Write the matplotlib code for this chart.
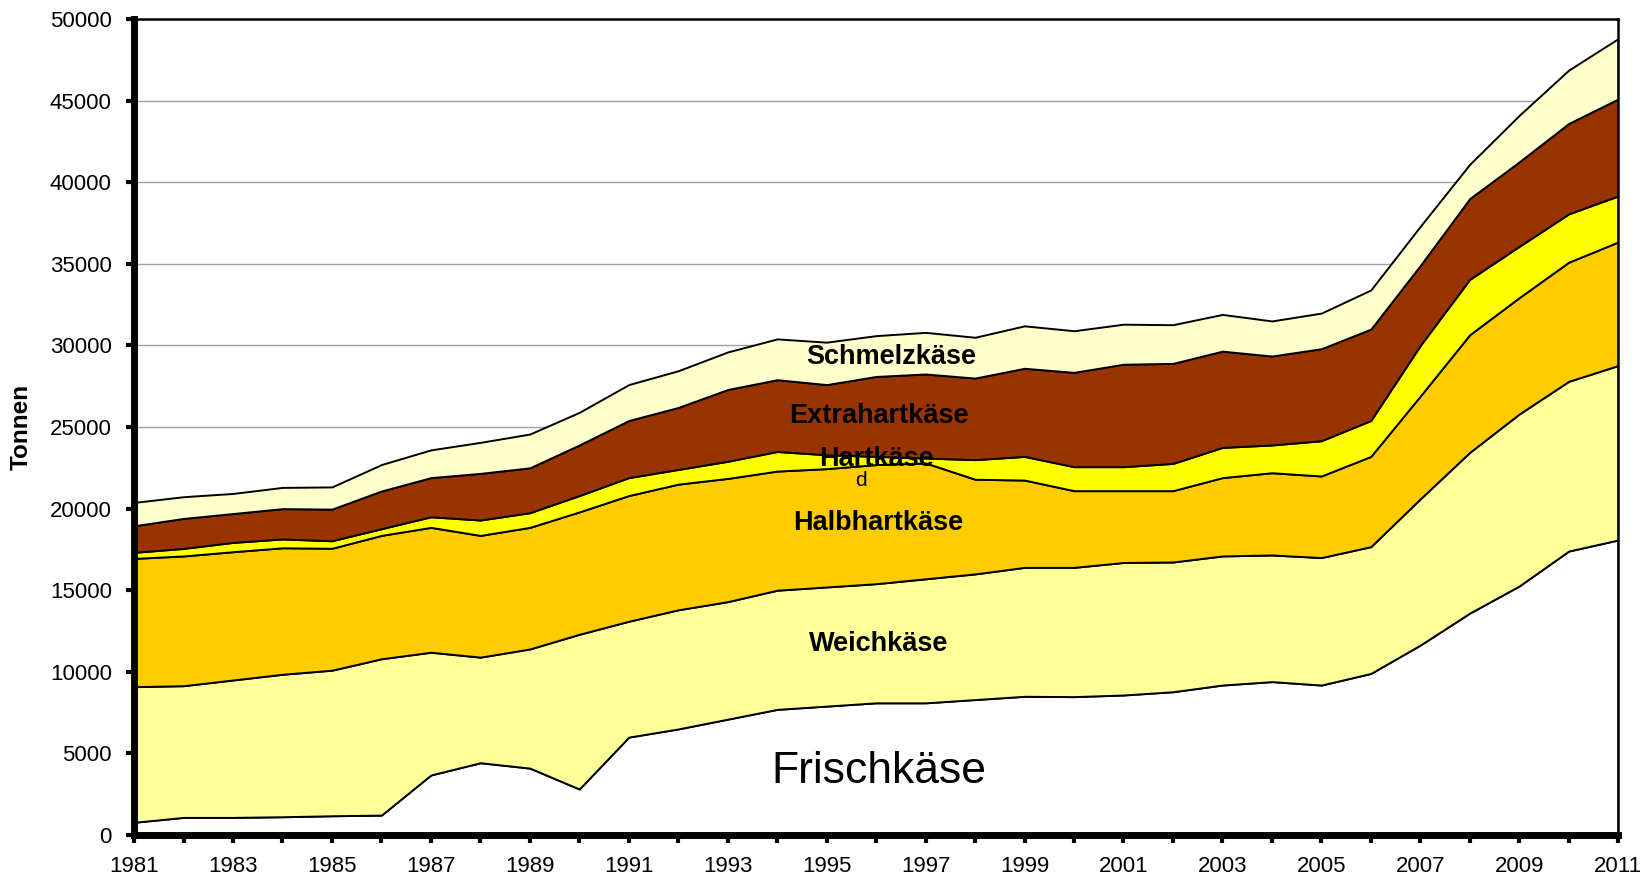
import matplotlib
matplotlib.use("Agg")
import matplotlib.pyplot as plt
import numpy as np

plt.rcParams['font.family'] = ['Liberation Sans', 'DejaVu Sans']

years = list(range(1981, 2012))
frischkaese = [780, 1080, 1080, 1120, 1180, 1220, 3680, 4430, 4100, 2820,
               6000, 6500, 7100, 7700, 7900, 8100, 8100, 8300, 8500, 8480,
               8580, 8780, 9190, 9400, 9190, 9900, 11640, 13600, 15260, 17400, 18080]
weichkaese = [8310, 8070, 8420, 8730, 8920, 9580, 7520, 6470, 7300, 9480,
              7100, 7300, 7200, 7300, 7300, 7300, 7600, 7700, 7900, 7920,
              8120, 7950, 7910, 7760, 7810, 7770, 8960, 9850, 10540, 10400, 10690]
halbhartkaese = [7860, 7950, 7860, 7750, 7470, 7560, 7650, 7460, 7450, 7500,
                 7700, 7700, 7550, 7300, 7250, 7300, 7100, 5800, 5350, 4700,
                 4400, 4370, 4800, 5040, 5000, 5530, 6300, 7210, 7130, 7300, 7570]
hartkaese = [370, 460, 570, 540, 460, 410, 650, 940, 900, 1000,
             1100, 900, 1050, 1200, 850, 500, 300, 1200, 1450, 1470,
             1470, 1670, 1850, 1700, 2160, 2200, 3100, 3390, 3140, 2960, 2820]
extrahartkaese = [1630, 1840, 1770, 1860, 1940, 2310, 2400, 2860, 2750, 3100,
                  3500, 3800, 4400, 4400, 4300, 4900, 5150, 5000, 5400, 5780,
                  6280, 6130, 5900, 5450, 5640, 5600, 4900, 4950, 5180, 5540, 5940]
schmelzkaese = [1430, 1330, 1230, 1300, 1360, 1620, 1700, 1900, 2070, 2000,
                2200, 2250, 2300, 2500, 2600, 2500, 2550, 2500, 2600, 2550,
                2450, 2370, 2250, 2150, 2180, 2400, 2400, 2100, 2850, 3270, 3700]

series = [frischkaese, weichkaese, halbhartkaese, hartkaese, extrahartkaese, schmelzkaese]
colors = ['#FFFFFF', '#FFFF99', '#FFCC00', '#FFFF00', '#993300', '#FFFFCC']

fig = plt.figure(figsize=(16.51, 8.81), dpi=100)
ax = fig.add_axes([0.0812, 0.0522, 0.8989, 0.9262])

ax.set_axisbelow(True)
ax.yaxis.grid(True, color='#a0a0a0', linewidth=1.0)
ax.stackplot(years, *series, colors=colors, edgecolor='black', linewidth=1.4, zorder=2)

ax.set_xlim(1981, 2011)
ax.set_ylim(0, 50000)
ax.set_yticks(range(0, 50001, 5000))
ax.set_xticks(years, minor=True)
ax.set_xticks(range(1981, 2012, 2))
ax.set_xticklabels([str(y) for y in range(1981, 2012, 2)])
ax.tick_params(axis='both', which='both', direction='out', width=3, length=6,
               labelsize=16, color='black')
ax.tick_params(axis='x', which='minor', width=3, length=6)
ax.tick_params(axis='x', pad=9)
ax.tick_params(axis='y', pad=10)

for s in ['left', 'bottom']:
    ax.spines[s].set_linewidth(5)
for s in ['top', 'right']:
    ax.spines[s].set_linewidth(1.8)
for s in ax.spines.values():
    s.set_zorder(5)

ax.set_ylabel('Tonnen', fontsize=17.5, fontweight='bold', labelpad=12)

lab = dict(ha='center', va='center', fontsize=19.5, fontweight='bold', zorder=6)
ax.text(1996.3, 29300, 'Schmelzkäse', **lab)
ax.text(1996.05, 25700, 'Extrahartkäse', **lab)
ax.text(1996.0, 23050, 'Hartkäse', **lab)
ax.text(1995.7, 21750, 'd', ha='center', va='center', fontsize=15, zorder=6)
ax.text(1996.05, 19100, 'Halbhartkäse', **lab)
ax.text(1996.05, 11700, 'Weichkäse', **lab)
ax.text(1996.05, 3900, 'Frischkäse', ha='center', va='center', fontsize=32, zorder=6)

fig.savefig('out.png', dpi=100)
